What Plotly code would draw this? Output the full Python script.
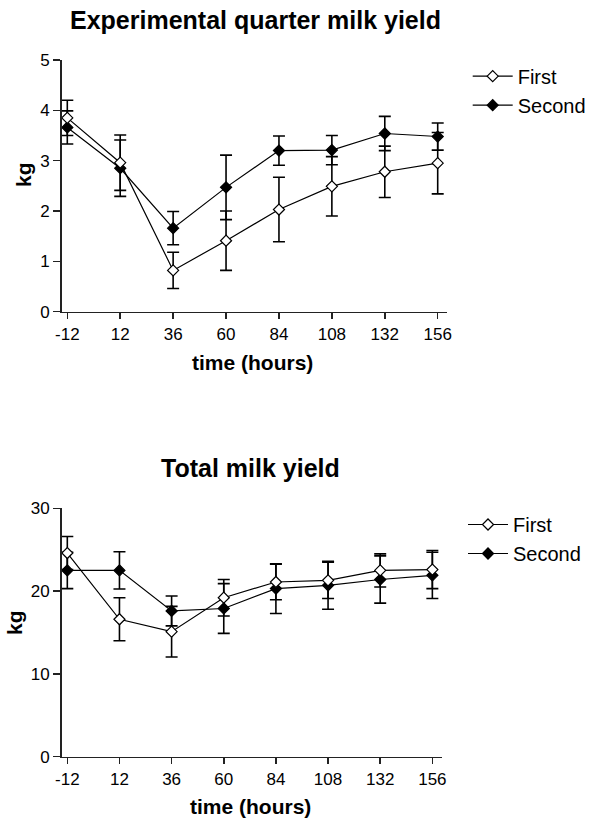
import plotly.graph_objects as go

TIME = [-12, 12, 36, 60, 84, 108, 132, 156]
TICK_LABELS = ["-12", "12", "36", "60", "84", "108", "132", "156"]

# Experimental quarter milk yield (kg), mean and error
Q_FIRST = [3.85, 2.96, 0.82, 1.41, 2.03, 2.49, 2.78, 2.95]
Q_FIRST_ERR = [0.35, 0.55, 0.36, 0.59, 0.64, 0.59, 0.51, 0.61]
Q_SECOND = [3.66, 2.85, 1.66, 2.47, 3.20, 3.21, 3.54, 3.48]
Q_SECOND_ERR = [0.33, 0.56, 0.33, 0.64, 0.29, 0.29, 0.34, 0.27]

# Total milk yield (kg)
T_FIRST = [24.6, 16.6, 15.1, 19.2, 21.1, 21.3, 22.5, 22.6]
T_FIRST_ERR = [2.0, 2.6, 3.05, 2.2, 2.15, 2.2, 2.0, 2.3]
T_SECOND = [22.5, 22.5, 17.6, 17.9, 20.3, 20.7, 21.4, 21.9]
T_SECOND_ERR = [2.2, 2.25, 1.8, 3.0, 3.0, 2.9, 2.85, 2.8]

SERIES_NAMES = ["First", "Second"]

W, H = 596, 819
FONT = "Liberation Sans, Arial, sans-serif"

fig = go.Figure()


def add_series(x, y, err, name, filled, xa, ya, legend):
    fig.add_trace(go.Scatter(
        x=x, y=y, name=name, mode="lines+markers",
        xaxis=xa, yaxis=ya, legend=legend,
        line=dict(color="black", width=1.2),
        marker=dict(symbol="diamond", size=8.5,
                    color="black" if filled else "white",
                    line=dict(color="black", width=1.2)),
        error_y=dict(type="data", array=err, visible=True,
                     color="black", thickness=1.6, width=6),
    ))


add_series(TIME, Q_SECOND, Q_SECOND_ERR, SERIES_NAMES[1], True, "x", "y", "legend")
add_series(TIME, Q_FIRST, Q_FIRST_ERR, SERIES_NAMES[0], False, "x", "y", "legend")
add_series(TIME, T_SECOND, T_SECOND_ERR, SERIES_NAMES[1], True, "x2", "y2", "legend2")
add_series(TIME, T_FIRST, T_FIRST_ERR, SERIES_NAMES[0], False, "x2", "y2", "legend2")


def px_x(p):
    return p / W


def px_y(p):
    return 1 - p / H


axis_common = dict(showline=True, linecolor="#222", linewidth=1.6,
                   ticks="outside", tickcolor="#222", tickwidth=1.5,
                   showgrid=False, zeroline=False, automargin=False,
                   tickfont=dict(family=FONT, size=17, color="black"))

legend_common = dict(xref="container", yref="container", xanchor="left", yanchor="top",
                     traceorder="reversed", itemwidth=40,
                     font=dict(family=FONT, size=20, color="black"),
                     bgcolor="rgba(0,0,0,0)")

fig.update_layout(
    width=W, height=H, margin=dict(l=0, r=0, t=0, b=0, autoexpand=False),
    paper_bgcolor="white", plot_bgcolor="white",
    font=dict(family=FONT, color="black"),
    xaxis=dict(domain=[px_x(61.7), px_x(446.7)], range=[-14.54, 160.08],
               tickvals=TIME, ticktext=TICK_LABELS, ticklen=6, anchor="y",
               **axis_common),
    yaxis=dict(domain=[px_y(311.7), px_y(60)], range=[0, 5],
               tickvals=[0, 1, 2, 3, 4, 5], ticklen=7, anchor="x",
               **axis_common),
    xaxis2=dict(domain=[px_x(61.7), px_x(441.7)], range=[-14.58, 160.3],
                tickvals=TIME, ticktext=TICK_LABELS, ticklen=6, anchor="y2",
                **axis_common),
    yaxis2=dict(domain=[px_y(756.7), px_y(508.3)], range=[0, 30],
                tickvals=[0, 10, 20, 30], ticklen=7, anchor="x2",
                **axis_common),
    legend=dict(x=px_x(467.7), y=px_y(56.7), **legend_common),
    legend2=dict(x=px_x(463), y=px_y(505), **legend_common),
    showlegend=True,
)

ann = [
    ("<b>Experimental quarter milk yield</b>", 255, 20, 25, 0),
    ("<b>Total milk yield</b>", 250.5, 468, 25, 0),
    ("<b>time (hours)</b>", 252, 362, 21, 0),
    ("<b>time (hours)</b>", 250, 806, 21, 0),
    ("<b>kg</b>", 23, 175, 21, -90),
    ("<b>kg</b>", 14, 623, 21, -90),
]
for text, x, y, size, ang in ann:
    fig.add_annotation(text=text, x=px_x(x), y=px_y(y), xref="paper", yref="paper",
                       xanchor="center", yanchor="middle", showarrow=False,
                       textangle=ang, font=dict(family=FONT, size=size, color="black"))

# remove the browser's default page margin so the figure fills the window exactly
fig.write_html("out.html",
               config={"displayModeBar": False, "staticPlot": True},
               post_script="document.body.style.margin='0';")
